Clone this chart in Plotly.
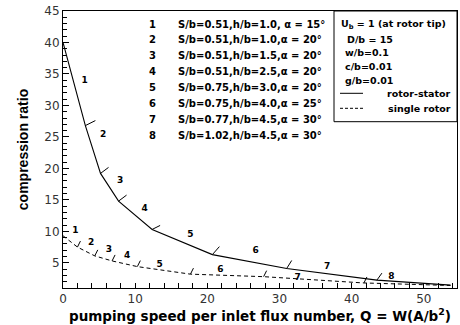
import plotly.graph_objects as go

# ---------------- data ----------------
Q_stator = [0, 3.1, 5.2, 7.7, 12.35, 20.7, 31.0, 43.5, 53.7]
CR_stator = [40.0, 26.8, 19.2, 14.8, 10.3, 6.3, 4.1, 2.25, 1.45]
Q_single = [0, 2.0, 4.4, 6.8, 10.3, 17.66, 27.8, 41.7, 53.7]
CR_single = [9.3, 7.5, 6.1, 5.3, 4.4, 3.2, 2.8, 1.8, 1.4]

stage_ids = ["1", "2", "3", "4", "5", "6", "7", "8"]
stator_label_Q = [3.0, 5.55, 7.9, 11.3, 17.66, 26.7, 36.6, 45.5]
stator_label_CR = [34.0, 25.3, 18.0, 13.6, 9.5, 6.86, 4.4, 2.8]
single_label_Q = [1.7, 3.9, 6.35, 8.9, 13.4, 21.8, 32.5]
single_label_CR = [10.05, 8.25, 7.0, 6.05, 4.75, 3.84, 2.6]

stage_params = [
    "S/b=0.51,h/b=1.0, α = 15°",
    "S/b=0.51,h/b=1.0,α = 20°",
    "S/b=0.51,h/b=1.5,α = 20°",
    "S/b=0.51,h/b=2.5,α = 20°",
    "S/b=0.75,h/b=3.0,α = 20°",
    "S/b=0.75,h/b=4.0,α = 25°",
    "S/b=0.77,h/b=4.5,α = 30°",
    "S/b=1.02,h/b=4.5,α = 30°",
]
box_lines = ["U<sub>b</sub> = 1 (at rotor tip)", "D/b = 15", "w/b=0.1", "c/b=0.01", "g/b=0.01"]
series_names = ["rotor-stator", "single rotor"]

x_title = "pumping speed per inlet flux number, Q = W(A/b<sup>2</sup>)"
y_title = "compression ratio"

X_RANGE = [0, 54.6]
Y_RANGE = [1, 45]

# ---------------- layout geometry (pixels) ----------------
W, H = 460, 325
ML, MR, MT, MB = 63, 3, 11, 37
PW, PH = W - ML - MR, H - MT - MB
SX = PW / (X_RANGE[1] - X_RANGE[0])   # px per data unit
SY = PH / (Y_RANGE[1] - Y_RANGE[0])


def pxx(px):
    return (px - ML) / PW


def pxy(py):
    return (H - MB - py) / PH


def tick_segments(qs, cs, offsets):
    xs, ys = [], []
    for q, c, (dx, dy) in zip(qs, cs, offsets):
        xs += [q, q + dx / SX, None]
        ys += [c, c - dy / SY, None]
    return xs, ys


BOLD = "DejaVu Sans"
fig = go.Figure()

fig.add_trace(go.Scatter(x=Q_stator, y=CR_stator, mode="lines",
                         line=dict(color="black", width=1.1), name=series_names[0],
                         showlegend=False, hoverinfo="skip"))
fig.add_trace(go.Scatter(x=Q_single, y=CR_single, mode="lines",
                         line=dict(color="black", width=1, dash="4px,3px"), name=series_names[1],
                         showlegend=False, hoverinfo="skip"))

# break tick marks on the curves
stator_tick_off = [(10, -5), (8, -6), (8, -6), (8, -4), (7, -8), (5, -8), (5, -7)]
tx, ty = tick_segments(Q_stator[1:-1], CR_stator[1:-1], stator_tick_off)
fig.add_trace(go.Scatter(x=tx, y=ty, mode="lines", line=dict(color="black", width=1),
                         showlegend=False, hoverinfo="skip"))
single_tick_off = [(3, -6)] * (len(Q_single) - 2)
tx, ty = tick_segments(Q_single[1:-1], CR_single[1:-1], single_tick_off)
fig.add_trace(go.Scatter(x=tx, y=ty, mode="lines", line=dict(color="black", width=1),
                         showlegend=False, hoverinfo="skip"))

# segment labels
fig.add_trace(go.Scatter(x=stator_label_Q, y=stator_label_CR, mode="text",
                         text=["<b>%s</b>" % s for s in stage_ids],
                         textfont=dict(family=BOLD, size=9, color="black"),
                         showlegend=False, hoverinfo="skip"))
fig.add_trace(go.Scatter(x=single_label_Q, y=single_label_CR, mode="text",
                         text=["<b>%s</b>" % s for s in stage_ids[:len(single_label_Q)]],
                         textfont=dict(family=BOLD, size=9, color="black"),
                         showlegend=False, hoverinfo="skip"))

annotations = []
# parameter list
row0, drow = 24, 15.9
for i, (sid, txt) in enumerate(zip(stage_ids, stage_params)):
    yy = pxy(row0 + i * drow)
    annotations.append(dict(x=pxx(152), y=yy, xref="paper", yref="paper", text="<b>%s</b>" % sid,
                            showarrow=False, xanchor="center", yanchor="middle",
                            font=dict(family=BOLD, size=10, color="black")))
    annotations.append(dict(x=pxx(176), y=yy, xref="paper", yref="paper", text="<b>%s</b>" % txt,
                            showarrow=False, xanchor="left", yanchor="middle",
                            font=dict(family=BOLD, size=10, color="black")))

# info box
box_rows = [24, 39, 52.7, 66.7, 80]
box_x = [339, 345, 343, 343, 343]
for txt, yy, xx in zip(box_lines, box_rows, box_x):
    annotations.append(dict(x=pxx(xx), y=pxy(yy), xref="paper", yref="paper", text="<b>%s</b>" % txt,
                            showarrow=False, xanchor="left", yanchor="middle",
                            font=dict(family=BOLD, size=9.5, color="black")))
leg_rows = [93.3, 108.3]
for name, yy in zip(series_names, leg_rows):
    annotations.append(dict(x=pxx(453), y=pxy(yy), xref="paper", yref="paper", text="<b>%s</b>" % name,
                            showarrow=False, xanchor="right", yanchor="middle",
                            font=dict(family=BOLD, size=9.5, color="black")))

shapes = [
    dict(type="rect", xref="paper", yref="paper", x0=pxx(334), x1=pxx(457), y0=pxy(121.7), y1=pxy(11),
         line=dict(color="black", width=1)),
    dict(type="line", xref="paper", yref="paper", x0=pxx(340), x1=pxx(363), y0=pxy(leg_rows[0]),
         y1=pxy(leg_rows[0]), line=dict(color="black", width=1)),
    dict(type="line", xref="paper", yref="paper", x0=pxx(340), x1=pxx(364), y0=pxy(leg_rows[1]),
         y1=pxy(leg_rows[1]), line=dict(color="black", width=1, dash="3px,2px")),
]

fig.update_layout(
    width=W, height=H, margin=dict(l=ML, r=MR, t=MT, b=MB),
    paper_bgcolor="white", plot_bgcolor="white",
    annotations=annotations, shapes=shapes,
    font=dict(family="DejaVu Sans", color="#222"),
)
fig.update_xaxes(range=X_RANGE, dtick=10, tick0=0, ticks="inside", ticklen=5, tickcolor="black",
                 showline=True, mirror=True, linecolor="black", linewidth=1, showgrid=False, zeroline=False,
                 minor=dict(dtick=2, ticks="inside", ticklen=5, tickcolor="black"),
                 tickfont=dict(family="DejaVu Sans", size=12, color="#333"),
                 title=dict(text="<b>%s</b>" % x_title, standoff=5,
                            font=dict(family=BOLD, size=13.5, color="black")))
fig.update_yaxes(range=Y_RANGE, dtick=5, tick0=0, ticks="inside", ticklen=6, tickcolor="black",
                 showline=True, mirror=True, linecolor="black", linewidth=1, showgrid=False, zeroline=False,
                 minor=dict(dtick=1, ticks="inside", ticklen=4, tickcolor="black"),
                 tickfont=dict(family="DejaVu Sans", size=12, color="#333"),
                 title=dict(text="<b>%s</b>" % y_title, standoff=12,
                            font=dict(family="Liberation Sans", size=14, color="black")))

fig.write_html("out.html")
